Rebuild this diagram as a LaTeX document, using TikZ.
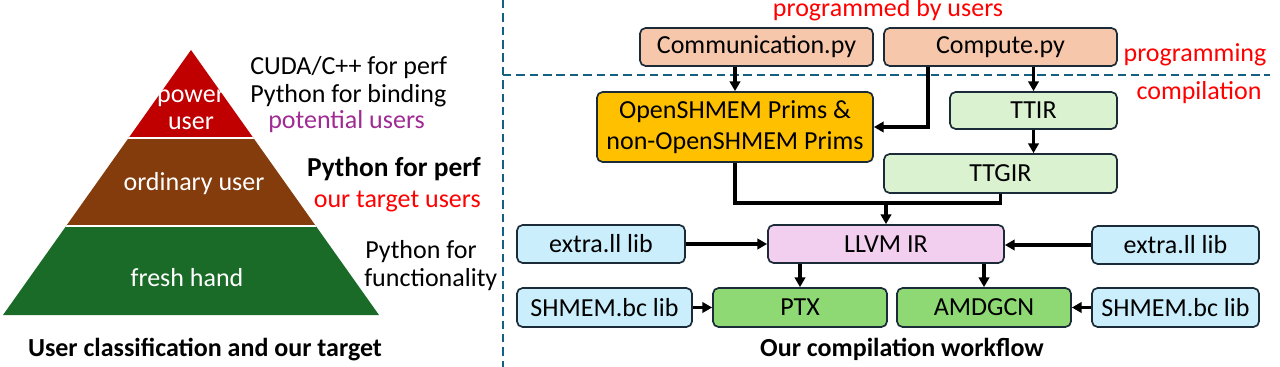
\documentclass[tikz,border=0pt]{standalone}
\usepackage{fontspec}
\setmainfont{Carlito}
\usepackage{tikz}
\usetikzlibrary{arrows.meta}
\usepackage{xcolor}
\definecolor{pyrred}{HTML}{C00000}
\definecolor{pyrbrown}{HTML}{843C0C}
\definecolor{pyrgreen}{HTML}{1B6B28}
\definecolor{peach}{HTML}{F7C7AC}
\definecolor{gold}{HTML}{FFC000}
\definecolor{mint}{HTML}{DAF2D0}
\definecolor{pinkir}{HTML}{F2CEEF}
\definecolor{skylib}{HTML}{CAEEFB}
\definecolor{gpugreen}{HTML}{8ED973}
\definecolor{edge}{HTML}{1C2B38}
\definecolor{sep}{HTML}{156082}
\definecolor{purp}{HTML}{A02B93}

\begin{document}
\begin{tikzpicture}[x=0.025cm,y=-0.025cm,>={Triangle[length=7pt,width=7.5pt]},
  font=\fontsize{18.5}{20}\selectfont,line cap=butt,
  blk/.style={draw=edge,line width=1.2pt,rounded corners=4pt,inner sep=0pt,align=center},
  ar/.style={->,line width=2.2pt},
  ln/.style={line width=2.2pt},
  sepline/.style={sep,line width=1.4pt,dash pattern=on 6pt off 3.5pt}]
\useasboundingbox (0,0) rectangle (1280,367);
\begin{scope}
\clip (191,50) -- (379,315) -- (3,315) -- cycle;
\fill[pyrred] (0,0) rectangle (400,138);
\fill[pyrbrown] (0,138) rectangle (400,226);
\fill[pyrgreen] (0,226) rectangle (400,320);
\draw[white,line width=1.6pt] (0,138) -- (400,138) (0,226) -- (400,226);
\end{scope}
\node[white,anchor=base] (power) at (191,103) {power};
\node[white,anchor=base] (poweruser) at (191,130) {user};
\node[white,anchor=base] (ordinary) at (194,190) {ordinary user};
\node[white,anchor=base] (fresh) at (187,286) {fresh hand};
\node[anchor=base west,inner sep=0pt] (cuda) at (250,75) {CUDA/C++ for perf};
\node[anchor=base west,inner sep=0pt] (binding) at (250,103) {Python for binding};
\node[anchor=base west,inner sep=0pt,purp] (potential) at (268,129) {potential users};
\node[anchor=base east,inner sep=0pt,font=\fontsize{19.5}{20}\selectfont\bfseries] (perf) at (481,177) {Python for perf};
\node[anchor=base east,inner sep=0pt,red] (target) at (481,207) {our target users};
\node[anchor=base west,inner sep=0pt] (pyfor) at (365,258) {Python for};
\node[anchor=base west,inner sep=0pt] (func) at (364,286) {functionality};
\node[anchor=base,inner sep=0pt,font=\fontsize{18.5}{20}\selectfont\bfseries] (leftcap) at (205,356) {User classification and our target};

\draw[sepline] (503,0) -- (503,367);
\draw[sepline] (503,75) -- (1270,75);

\node[anchor=base,inner sep=0pt,red] (byusers) at (888,17) {programmed by users};
\node[anchor=base,inner sep=0pt,red] (progr) at (1195,62) {programming};
\node[anchor=base,inner sep=0pt,red] (compil) at (1199,100) {compilation};

\node[blk,fill=peach,minimum width=5.825cm,minimum height=0.95cm] (comm) at (756.5,47) {Communication.py};
\node[blk,fill=peach,minimum width=5.825cm,minimum height=0.95cm] (comp) at (1000.5,47) {Compute.py};
\node[blk,fill=gold,minimum width=6.9cm,minimum height=1.75cm] (prims) at (735,127) {OpenSHMEM Prims \&\\[2pt]non-OpenSHMEM Prims};
\node[blk,fill=mint,minimum width=4.175cm,minimum height=0.925cm] (ttir) at (1033.5,110.5) {TTIR};
\node[blk,fill=mint,minimum width=5.825cm,minimum height=0.975cm] (ttgir) at (1000.5,173.5) {TTGIR};
\node[blk,fill=pinkir,minimum width=5.9cm,minimum height=0.95cm] (llvm) at (886,244) {LLVM IR};
\node[blk,fill=skylib,minimum width=4.2cm,minimum height=0.95cm] (extraL) at (601,244) {extra.ll lib};
\node[blk,fill=skylib,minimum width=4.175cm,minimum height=0.95cm] (extraR) at (1175.5,245) {extra.ll lib};
\node[blk,fill=skylib,minimum width=4.375cm,minimum height=0.975cm] (shmemL) at (604.5,307.5) {SHMEM.bc lib};
\node[blk,fill=gpugreen,minimum width=4.35cm,minimum height=0.975cm] (ptx) at (800,307.5) {PTX};
\node[blk,fill=gpugreen,minimum width=4.35cm,minimum height=0.975cm] (amd) at (984,307.5) {AMDGCN};
\node[blk,fill=skylib,minimum width=4.175cm,minimum height=0.975cm] (shmemR) at (1175.5,307.5) {SHMEM.bc lib};
\node[anchor=base,inner sep=0pt,font=\fontsize{18.5}{20}\selectfont\bfseries] (rightcap) at (902,356) {Our compilation workflow};

\coordinate (bend) at (928,126);
\coordinate (merge) at (886,203);
\draw[ar] (prims.north |- comm.south) -- (prims.north);
\draw[ar] (comp.south -| bend) |- (prims.east);
\draw[ar] (ttir.north |- comp.south) -- (ttir.north);
\draw[ar] (ttir.south) -- (ttgir.north -| ttir.south);
\draw[ln] (prims.south) |- (merge) -| (ttgir.south);
\draw[ar] (merge) -- (llvm.north);
\draw[ar] (extraL) -- (llvm);
\draw[ar] (extraR.west) -- (llvm.east |- extraR.west);
\draw[ar] (ptx.north |- llvm.south) -- (ptx.north);
\draw[ar] (amd.north |- llvm.south) -- (amd.north);
\draw[ar] (shmemL) -- (ptx);
\draw[ar] (shmemR) -- (amd);
\end{tikzpicture}
\end{document}
